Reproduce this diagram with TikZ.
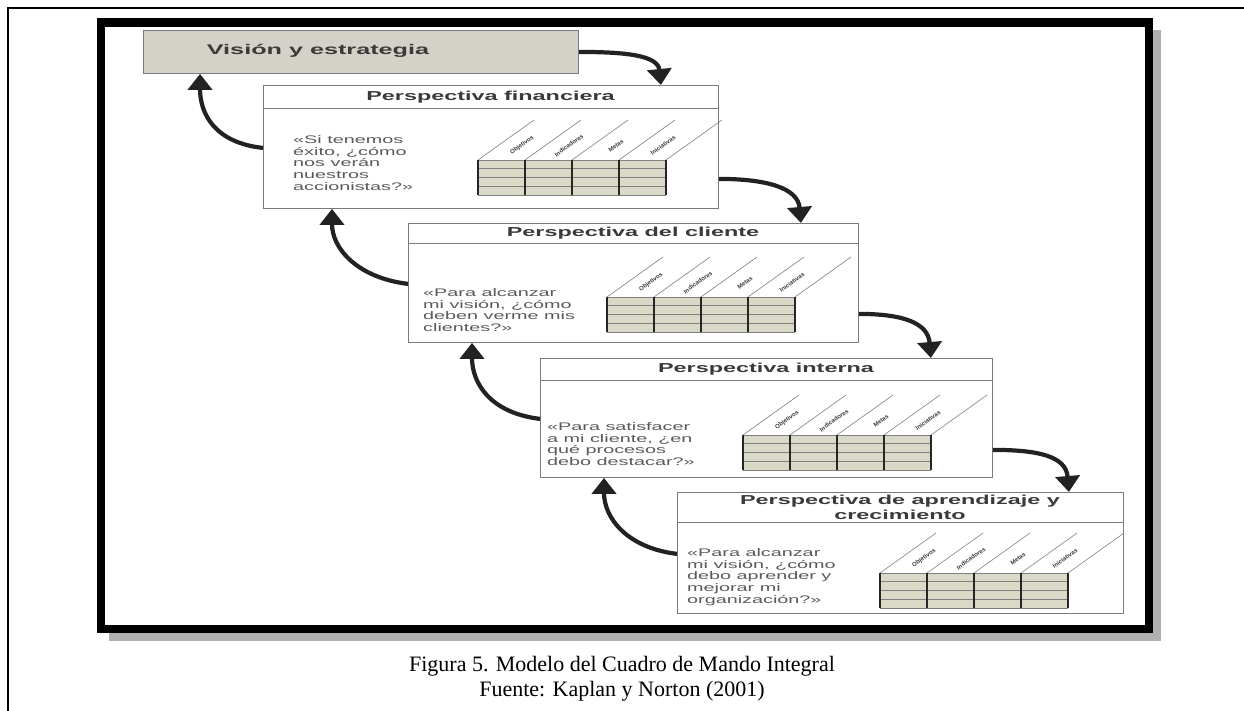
\documentclass[tikz,border=0pt]{standalone}
\usepackage{fontspec}
\setmainfont{Liberation Serif}
\newfontfamily\wsans[FakeStretch=1.8]{Liberation Sans}
\newfontfamily\lsans{Liberation Sans}
\usetikzlibrary{arrows.meta}
\definecolor{visfill}{HTML}{D4D1C9}
\definecolor{tabfill}{HTML}{DAD8C6}
\definecolor{boxline}{HTML}{7A7A7A}
\definecolor{txtgray}{HTML}{5A5A5A}
\definecolor{titgray}{HTML}{3A3A3A}
\definecolor{arrowc}{HTML}{222222}
\definecolor{shadowc}{HTML}{B0B0B0}
\tikzset{
  pbox/.style={draw=boxline, line width=0.9pt, fill=white, inner sep=0pt, anchor=north west},
  visbox/.style={draw=boxline, line width=0.9pt, fill=visfill, inner sep=0pt, anchor=north west},
  ptitle/.style={font=\wsans\bfseries\fontsize{13}{15}\selectfont, text=titgray, align=center, inner sep=0pt},
  vistitle/.style={font=\wsans\bfseries\fontsize{14}{16}\selectfont, text=titgray, inner sep=0pt},
  pbody/.style={font=\wsans\fontsize{11}{11.75}\selectfont, text=txtgray, align=left, inner sep=0pt, anchor=west},
  tlab/.style={font=\lsans\bfseries\fontsize{6}{6}\selectfont, text=titgray, rotate=35.5, inner sep=0pt},
  capt/.style={font=\fontsize{22}{25}\selectfont, inner sep=0pt},
  sepline/.style={draw=boxline, line width=0.9pt},
  rowline/.style={draw=gray, line width=0.6pt},
  colline/.style={draw=black!85, line width=1.6pt},
  diagline/.style={draw=gray, line width=0.6pt},
  arr/.style={line width=4.2pt, draw=arrowc, -{Triangle[width=24pt,length=16pt]}},
  kntable/.pic={
    \fill[tabfill] (0,0) rectangle (188,35);
    \foreach \yy in {8.75,17.5,26.25} \draw[rowline] (0,\yy) -- (188,\yy);
    \draw[rowline] (0,0) -- (188,0);
    \draw[rowline] (0,35) -- (188,35);
    \foreach \xx in {0,47,94,141,188} \draw[colline] (\xx,0) -- (\xx,35);
    \foreach \xx in {0,47,94,141,188} \draw[diagline] (\xx,0) -- ++(56,-40);
    \node[tlab] (-a) at (44,-14.5) {Objetivos};
    \node[tlab] (-b) at (91,-14.5) {Indicadores};
    \node[tlab] (-c) at (138,-14.5) {Metas};
    \node[tlab] (-d) at (185,-14.5) {Iniciativas};
  }
}
\begin{document}
\begin{tikzpicture}[x=1pt,y=-1pt]
\useasboundingbox (0,0) rectangle (1244,711);
% outer thin frame
\coordinate (ofa) at (8,711);
\coordinate (ofb) at (8,8);
\coordinate (ofc) at (1244,8);
\draw[line width=1.5pt] (ofa) -- (ofb) -- (ofc);
% thick frame with shadow
\fill[shadowc] (109,30) rectangle (1161,641);
\fill[white] (97,18) rectangle (1153,633);
\draw[line width=8.5pt] (101,22.5) rectangle (1149,629);

% vision box
\node[visbox, minimum width=435, minimum height=43] (vis) at (143,30) {};
\node[vistitle] (vist) at (318,51) {Visión y estrategia};

% perspective boxes
\node[pbox, minimum width=455, minimum height=123] (p1) at (263,85) {};
\draw[sepline] (263,108) -- (718,108);
\node[ptitle] (p1t) at (490.5,97) {Perspectiva financiera};
\node[pbody] (p1b) at (293,163) {«Si tenemos\\éxito, ¿cómo\\nos verán\\nuestros\\accionistas?»};
\pic (t1) at (478,160) {kntable};

\node[pbox, minimum width=450, minimum height=119] (p2) at (408,223) {};
\draw[sepline] (408,243) -- (858,243);
\node[ptitle] (p2t) at (633,233.5) {Perspectiva del cliente};
\node[pbody] (p2b) at (423,310) {«Para alcanzar\\mi visión, ¿cómo\\deben verme mis\\clientes?»};
\pic (t2) at (607,297) {kntable};

\node[pbox, minimum width=452, minimum height=119] (p3) at (540,358) {};
\draw[sepline] (540,380) -- (992,380);
\node[ptitle] (p3t) at (766,369.5) {Perspectiva interna};
\node[pbody] (p3b) at (547,444) {«Para satisfacer\\a mi cliente, ¿en\\qué procesos\\debo destacar?»};
\pic (t3) at (743,435) {kntable};

\node[pbox, minimum width=446, minimum height=121] (p4) at (677,492) {};
\draw[sepline] (677,522) -- (1123,522);
\node[ptitle] (p4t) at (900,507) {Perspectiva de aprendizaje y\\crecimiento};
\node[pbody] (p4b) at (687,577) {«Para alcanzar\\mi visión, ¿cómo\\debo aprender y\\mejorar mi\\organización?»};
\pic (t4) at (880,573) {kntable};

% downward arrows
\draw[arr] (vis.east) .. controls +(45,0) and +(-3,-30) .. ([xshift=-58pt]p1.north east);
\draw[arr] ([yshift=30pt]p1.south east) .. controls +(45,0) and +(-3,-36) .. ([xshift=-58pt]p2.north east);
\draw[arr] ([yshift=29pt]p2.south east) .. controls +(42,0) and +(-3,-36) .. ([xshift=-62pt]p3.north east);
\draw[arr] ([yshift=28pt]p3.south east) .. controls +(45,0) and +(-3,-36) .. ([xshift=-55pt]p4.north east);

% upward arrows
\draw[arr] ([yshift=61pt]p1.south west) .. controls +(-48,-5) and +(0,40) .. ([xshift=57pt]vis.south west);
\draw[arr] ([yshift=59pt]p2.south west) .. controls +(-50,-6) and +(0,40) .. ([xshift=69pt]p1.south west);
\draw[arr] ([yshift=59pt]p3.south west) .. controls +(-50,-6) and +(0,40) .. ([xshift=64pt]p2.south west);
\draw[arr] ([yshift=60pt]p4.south west) .. controls +(-50,-6) and +(0,40) .. ([xshift=64pt]p3.south west);

% caption
\node[capt] (cap1) at (622,666) {Figura 5. Modelo del Cuadro de Mando Integral};
\node[capt] (cap2) at (622,691) {Fuente: Kaplan y Norton (2001)};
\end{tikzpicture}
\end{document}
